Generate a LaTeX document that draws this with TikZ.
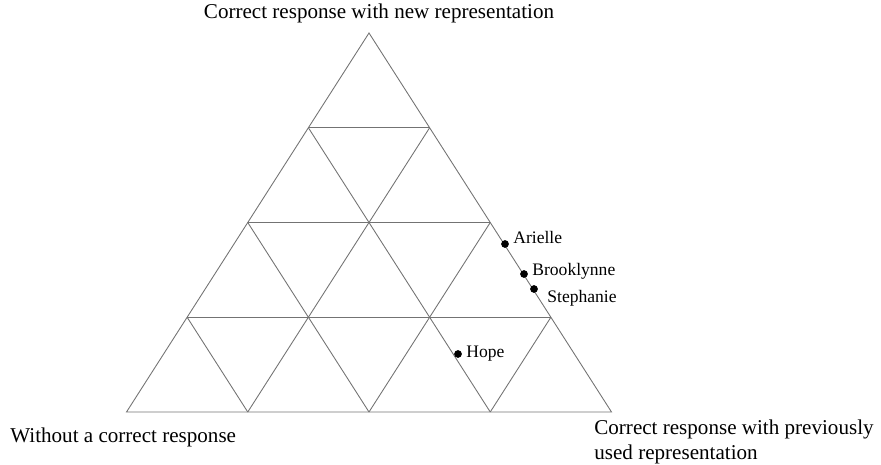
\documentclass[tikz,border=0pt]{standalone}
\usepackage{fontspec}
\setmainfont{Liberation Serif}

\begin{document}
\begin{tikzpicture}[x=0.02cm,y=-0.02cm,
    grid line/.style={draw=black!55,line width=0.5pt},
    student/.style={circle,fill=black,inner sep=0pt,minimum size=4.4pt},
    name label/.style={font=\fontsize{10}{12}\selectfont,inner sep=0pt,anchor=west},
    corner label/.style={font=\fontsize{12}{14}\selectfont,inner sep=0pt}]
    \useasboundingbox (0,0) rectangle (881,465);

    % grid vertices, row r from the top, position k along the row
    \foreach \r in {0,...,4}
        \foreach \k in {0,...,\r}
            \coordinate (v-\r-\k) at ({369+(\k-\r/2)*121.25},{33+\r*94.75});

    % outer triangle
    \draw[grid line] (v-0-0) -- (v-4-0) -- (v-4-4) -- cycle;

    % inner lines
    \foreach \r in {1,...,3}{
        \pgfmathtruncatemacro{\s}{4-\r}
        \draw[grid line] (v-\r-0) -- (v-\r-\r);
        \draw[grid line] (v-\r-0) -- (v-4-\s);
        \draw[grid line] (v-\r-\r) -- (v-4-\r);
    }

    % students
    \node[student] (arielle) at (505,244) {};
    \node[student] (brooklynne) at (524,274) {};
    \node[student] (stephanie) at (534,289) {};
    \node[student] (hope) at (458,354) {};

    \node[name label] (l-arielle) at (513,237) {Arielle};
    \node[name label] (l-brooklynne) at (532,271) {Brooklynne};
    \node[name label] (l-stephanie) at (547,298) {Stephanie};
    \node[name label] (l-hope) at (466,354) {Hope};

    % corner labels
    \node[corner label] (top) at (379,13) {Correct response with new representation};
    \node[corner label,anchor=west] (left) at (10,437) {Without a correct response};
    \node[corner label,anchor=north west,align=left] (right) at (594,420)
        {Correct response with previously\\used representation};
\end{tikzpicture}
\end{document}
